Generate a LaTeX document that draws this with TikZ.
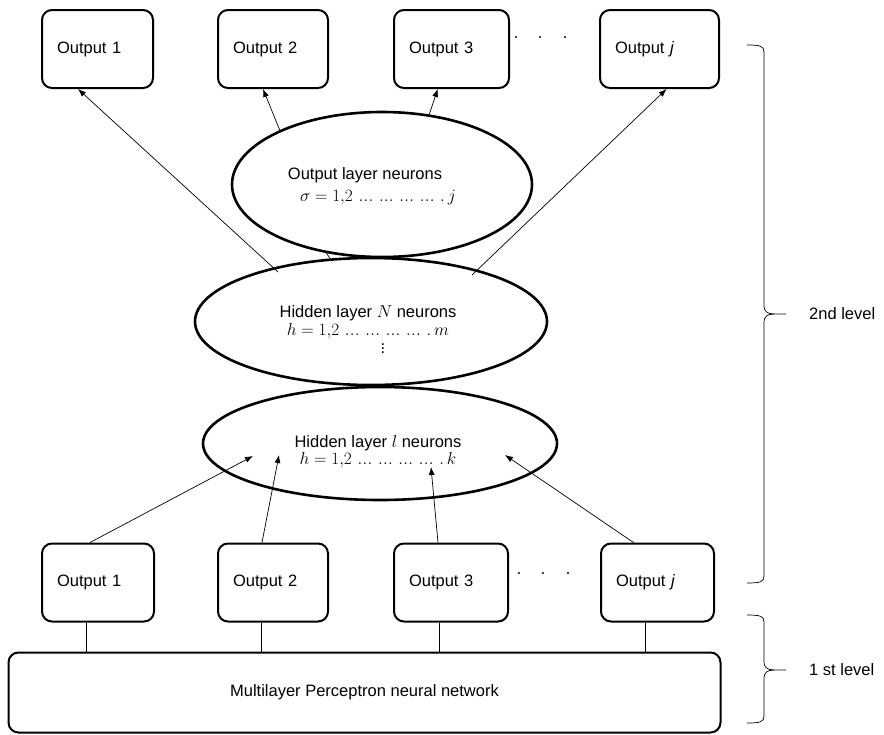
\documentclass[tikz,border=0pt]{standalone}
\usepackage{fontspec}
\setmainfont{Liberation Sans}
\usetikzlibrary{shapes.geometric,arrows.meta,calc}
\newcommand{\dts}{\mathinner{.\kern0.3pt.\kern0.3pt.}}
\begin{document}
\begin{tikzpicture}[x=1pt,y=-1pt,
  every node/.style={font=\fontsize{16.5}{20}\selectfont},
  box/.style={draw, line width=2pt, rounded corners=10pt, minimum height=78pt, inner xsep=15pt, align=left, anchor=center},
  ell/.style={draw, ellipse, line width=2.6pt, inner sep=0pt},
  lbl/.style={inner sep=0pt, anchor=center},
  arr/.style={line width=0.7pt, -{Latex[length=8pt,width=6pt]}},
  ln/.style={line width=0.7pt},
  brc/.style={line width=0.7pt}]
\useasboundingbox (0,0) rectangle (884,734);

% top output boxes
\node[box, text width=81pt] (O1) at (97.5,49) {Output 1};
\node[box, text width=80pt] (O2) at (273,49) {Output 2};
\node[box, text width=85pt] (O3) at (451.5,49) {Output 3};
\node[box, text width=89pt] (Oj) at (659.5,49) {Output \textit{j}};
\fill (516,37) circle (1.2pt) (540,37) circle (1.2pt) (565,37) circle (1.2pt);

% ellipses
\node[ell, minimum width=300pt, minimum height=145pt] (ol) at (382,184.5) {};
\node[ell, minimum width=352pt, minimum height=127pt] (hn) at (371,321.5) {};
\node[ell, minimum width=354pt, minimum height=113pt] (hl) at (380,443.5) {};

\node[lbl] (oltext) at (365,175) {Output layer neurons};
\node[lbl] (olform) at (378,198) {$\sigma = 1{,}2\,\dts\,\dts\,\dts\,\dts\,.\,j$};
\node[lbl] (hntext) at (368,313) {Hidden layer $N$ neurons};
\node[lbl] (hnform) at (368,331) {$h = 1{,}2\,\dts\,\dts\,\dts\,\dts\,.\,m$};
\node[lbl] (hnvd) at (383,346) {$\vdots$};
\node[lbl] (hltext) at (378,443) {Hidden layer $l$ neurons};
\node[lbl] (hlform) at (378,460) {$h = 1{,}2\,\dts\,\dts\,\dts\,\dts\,.\,k$};

% bottom output boxes
\node[box, text width=82pt] (B1) at (98,582.5) {Output 1};
\node[box, text width=80pt] (B2) at (273,582.5) {Output 2};
\node[box, text width=84pt] (B3) at (451,582.5) {Output 3};
\node[box, text width=83pt] (Bj) at (657.5,582.5) {Output \textit{j}};
\fill (519,573) circle (1.2pt) (543,573) circle (1.2pt) (568,573) circle (1.2pt);

% MLP
\node[draw, line width=2pt, rounded corners=10pt, minimum width=712pt, minimum height=80pt] (mlp) at (364.5,692.5) {Multilayer Perceptron neural network};

% arrows to top outputs
\coordinate (s1) at (278,272);
\coordinate (s4) at (472,275);
\draw[arr] (s1) -- (O1.244);
\draw[arr] (ol.152) -- (O2.256.6);
\draw[arr] (ol.56.5) -- (O3.251);
\draw[arr] (s4) -- (Oj.280);
\draw[ln] (ol.231) -- (hn.123);

% arrows from bottom outputs into hidden layer l
\coordinate (e1) at (253,456);
\coordinate (e2) at (279,455);
\coordinate (e3) at (431,467);
\coordinate (e4) at (505,455);
\draw[arr] ($(B1.north)+(-8,0)$) -- (e1);
\draw[arr] ($(B2.north)+(-11,0)$) -- (e2);
\draw[arr] ($(B3.north)+(-13,0)$) -- (e3);
\draw[arr] ($(Bj.north)+(-24,0)$) -- (e4);

% connections to MLP
\foreach \b in {B1,B2,B3,Bj}{
  \draw[ln] ($(\b.south)+(-12,0)$) coordinate (t\b) -- (t\b |- mlp.north);
}

% braces
\draw[brc] (747,45) .. controls (760,45) and (764,46) .. (764,52) -- (764,306)
  .. controls (764,311) and (767,314) .. (774,314) -- (786,314);
\draw[brc] (774,314) .. controls (767,314) and (764,317) .. (764,322) -- (764,576)
  .. controls (764,582) and (760,583) .. (747,583);
\node[anchor=west, inner sep=0pt] (lev2) at (809,314) {2nd level};

\draw[brc] (747,615) .. controls (760,615) and (764,616) .. (764,622) -- (764,662)
  .. controls (764,667) and (767,670) .. (774,670) -- (786,670);
\draw[brc] (774,670) .. controls (767,670) and (764,673) .. (764,678) -- (764,716)
  .. controls (764,722) and (760,723) .. (747,723);
\node[anchor=west, inner sep=0pt] (lev1) at (809,670) {1 st level};
\end{tikzpicture}
\end{document}
